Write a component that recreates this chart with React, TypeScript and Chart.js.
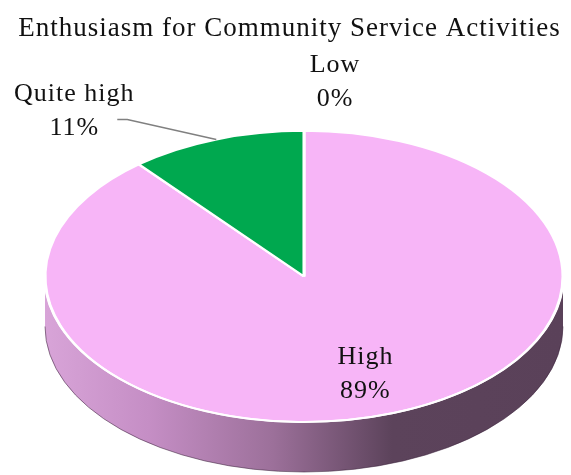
import React, { useEffect, useRef } from 'react';
import { Chart, registerables } from 'chart.js';

Chart.register(...registerables);

const TITLE = 'Enthusiasm for Community Service Activities';
const categories = ['High', 'Quite high', 'Low'];
const values = [89, 11, 0];
const percentLabels = ['89%', '11%', '0%'];

const topColors = ['#f7b5f7', '#00a84f', '#7f7fd0'];
const sideStops = [0, 0.2, 0.44, 0.67, 1];
const sideColors = [
  ['#d8a4d8', '#c58ec5', '#9c709a', '#5c435b', '#5a4159'],
  ['#00a040', '#009040', '#007035', '#004a22', '#004520'],
  ['#6060a8', '#5555a0', '#454590', '#303070', '#2c2c68'],
];

const FONT = "'Liberation Serif', 'Times New Roman', serif";
const DEPTH = 50;

function geom(chart: any) {
  const a = chart.chartArea;
  const rx = (a.right - a.left) / 2;
  const ry = (a.bottom - a.top - DEPTH) / 2;
  return { cx: (a.left + a.right) / 2, cy: a.top + ry, rx, ry };
}

function project(g: any, angle: number, f: number) {
  return { x: g.cx + f * g.rx * Math.cos(angle), y: g.cy + f * g.ry * Math.sin(angle) };
}

const pie3d = {
  id: 'pie3d',
  beforeDatasetsDraw(chart: any) {
    const ctx = chart.ctx;
    const g = geom(chart);
    const meta = chart.getDatasetMeta(0);
    const TWO_PI = Math.PI * 2;
    meta.data.forEach((arc: any, i: number) => {
      const s = arc.startAngle;
      const e = arc.endAngle;
      if (e - s <= 0) return;
      for (let k = -1; k <= 1; k++) {
        const lo = Math.max(s, k * TWO_PI);
        const hi = Math.min(e, k * TWO_PI + Math.PI);
        if (hi <= lo) continue;
        const grad = ctx.createLinearGradient(g.cx - g.rx, 0, g.cx + g.rx, 0);
        sideStops.forEach((st, j) => grad.addColorStop(st, sideColors[i][j]));
        ctx.save();
        ctx.beginPath();
        ctx.ellipse(g.cx, g.cy, g.rx, g.ry, 0, lo, hi, false);
        ctx.ellipse(g.cx, g.cy + DEPTH, g.rx, g.ry, 0, hi, lo, true);
        ctx.closePath();
        ctx.fillStyle = grad;
        ctx.fill();
        ctx.beginPath();
        ctx.ellipse(g.cx, g.cy + DEPTH, g.rx, g.ry, 0, lo, hi, false);
        ctx.strokeStyle = 'rgba(60,35,60,0.55)';
        ctx.lineWidth = 1;
        ctx.stroke();
        ctx.restore();
      }
    });
    const ref: any = meta.data[0];
    const R = ref.outerRadius;
    ctx.save();
    ctx.translate(g.cx, g.cy);
    ctx.scale(g.rx / R, g.ry / R);
    ctx.translate(-ref.x, -ref.y);
  },
  afterDatasetsDraw(chart: any) {
    const ctx = chart.ctx;
    ctx.restore();
    const g = geom(chart);
    ctx.save();
    ctx.beginPath();
    ctx.ellipse(g.cx, g.cy, g.rx, g.ry, 0, 0.02, Math.PI - 0.02, false);
    ctx.strokeStyle = '#ffffff';
    ctx.lineWidth = 2;
    ctx.stroke();
    ctx.restore();

    const meta = chart.getDatasetMeta(0);
    ctx.save();
    ctx.font = `26px ${FONT}`;
    (ctx as any).letterSpacing = '1px';
    ctx.fillStyle = '#111111';
    ctx.textAlign = 'center';
    ctx.textBaseline = 'alphabetic';
    const LH = 34;
    meta.data.forEach((arc: any, i: number) => {
      const mid = (arc.startAngle + arc.endAngle) / 2;
      if (i === 0) {
        const p = project(g, mid, 0.7);
        ctx.fillText(categories[i], p.x, p.y - 8);
        ctx.fillText(percentLabels[i], p.x, p.y - 8 + LH);
      } else if (i === 1) {
        const p = project(g, mid, 1);
        ctx.beginPath();
        ctx.moveTo(p.x, p.y);
        ctx.lineTo(p.x - 89, p.y - 20);
        ctx.lineTo(p.x - 99, p.y - 20);
        ctx.strokeStyle = '#808080';
        ctx.lineWidth = 1.5;
        ctx.stroke();
        ctx.fillText(categories[i], p.x - 142, p.y - 39);
        ctx.fillText(percentLabels[i], p.x - 142, p.y - 39 + LH);
      } else {
        const p = project(g, mid, 1);
        ctx.fillText(categories[i], p.x + 31, p.y - 59);
        ctx.fillText(percentLabels[i], p.x + 31, p.y - 59 + LH);
      }
    });
    ctx.restore();
  },
  afterDraw(chart: any) {
    const ctx = chart.ctx;
    ctx.save();
    ctx.font = `27px ${FONT}`;
    (ctx as any).letterSpacing = '1px';
    ctx.fillStyle = '#111111';
    ctx.textAlign = 'center';
    ctx.textBaseline = 'alphabetic';
    ctx.fillText(TITLE, chart.width / 2 + 4, 36);
    ctx.restore();
  },
};

export default function App() {
  const canvasRef = useRef<HTMLCanvasElement>(null);
  useEffect(() => {
    document.body.style.margin = '0';
    const chart = new Chart(canvasRef.current as HTMLCanvasElement, {
      type: 'pie',
      data: {
        labels: categories,
        datasets: [
          {
            data: values,
            backgroundColor: topColors,
            borderColor: '#ffffff',
            borderWidth: 2,
          },
        ],
      },
      options: {
        responsive: false,
        animation: false,
        layout: { padding: { top: 131, left: 45, right: 8, bottom: 3 } },
        plugins: {
          legend: { display: false },
          tooltip: { enabled: false },
          title: { display: false },
        },
      },
      plugins: [pie3d],
    });
    return () => chart.destroy();
  }, []);
  return (
    <div style={{ width: 571, height: 475 }}>
      <canvas ref={canvasRef} width={571} height={475} style={{ display: 'block' }} />
    </div>
  );
}
